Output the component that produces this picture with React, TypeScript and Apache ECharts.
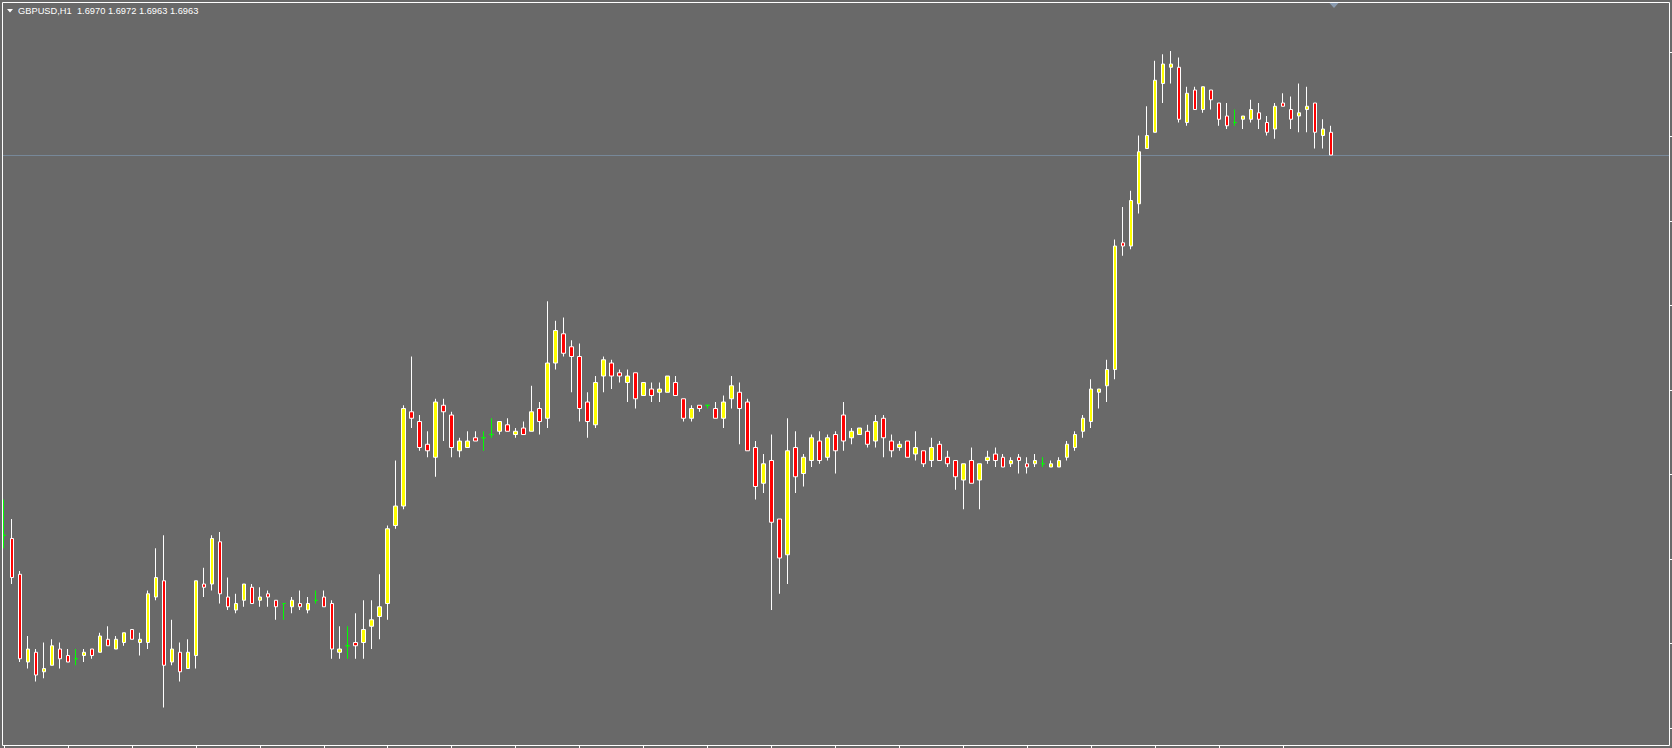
import React, { useEffect, useRef } from "react";
import * as echarts from "echarts";

const chartTitle = "GBPUSD,H1  1.6970 1.6972 1.6963 1.6963";

const openPrices = [
  1.6846, 1.6845, 1.6834, 1.6807, 1.681, 1.6804, 1.6806, 1.6811, 1.6809, 1.6808,
  1.6809, 1.6811, 1.681, 1.6814, 1.6811, 1.6813, 1.6817, 1.6813, 1.6813, 1.6827,
  1.6832, 1.6807, 1.681, 1.6805, 1.6809, 1.6831, 1.6831, 1.6844, 1.6827, 1.6823,
  1.6826, 1.683, 1.6826, 1.6828, 1.6826, 1.6825, 1.6824, 1.6825, 1.6823, 1.6826,
  1.6827, 1.6825, 1.681, 1.6812, 1.6813, 1.6813, 1.6818, 1.6821, 1.6825, 1.6849,
  1.6855, 1.6884, 1.6881, 1.6874, 1.687, 1.6886, 1.6883, 1.6872, 1.6873, 1.6876,
  1.6876, 1.6877, 1.6878, 1.688, 1.6877, 1.6879, 1.6878, 1.6885, 1.6882, 1.6899,
  1.6908, 1.6904, 1.6901, 1.6887, 1.688, 1.6895, 1.6899, 1.6896, 1.6893, 1.6896,
  1.6889, 1.6891, 1.689, 1.689, 1.6893, 1.6888, 1.6882, 1.6886, 1.6886, 1.6885,
  1.6882, 1.6888, 1.689, 1.6887, 1.6873, 1.6862, 1.6869, 1.6851, 1.684, 1.6873,
  1.6865, 1.6869, 1.6875, 1.687, 1.6877, 1.6883, 1.6876, 1.6877, 1.6878, 1.6875,
  1.6882, 1.6875, 1.6873, 1.6875, 1.6871, 1.6872, 1.6869, 1.6874, 1.687, 1.6869,
  1.6863, 1.6869, 1.6863, 1.6869, 1.6871, 1.687, 1.6868, 1.687, 1.6868, 1.6868,
  1.6868, 1.6867, 1.6867, 1.687, 1.6873, 1.6878, 1.6881, 1.689, 1.6892, 1.6897,
  1.6936, 1.6935, 1.6948, 1.6965, 1.697, 1.6985, 1.699, 1.699, 1.6973, 1.6983,
  1.6977, 1.6983, 1.6979, 1.6975, 1.6973, 1.6974, 1.6974, 1.6976, 1.6973, 1.6971,
  1.6979, 1.6977, 1.6975, 1.6977, 1.6979, 1.6969, 1.697,
];

const highPrices = [
  1.6857, 1.6851, 1.6835, 1.6815, 1.6811, 1.6813, 1.6814, 1.6813, 1.6811, 1.6811,
  1.6811, 1.6811, 1.6816, 1.6818, 1.6815, 1.6816, 1.6817, 1.6816, 1.6829, 1.6842,
  1.6846, 1.682, 1.6813, 1.6814, 1.6832, 1.6836, 1.6846, 1.6847, 1.6833, 1.6828,
  1.6831, 1.6831, 1.683, 1.6829, 1.6826, 1.6825, 1.6827, 1.6829, 1.6827, 1.6829,
  1.6829, 1.6826, 1.6818, 1.6818, 1.6822, 1.6826, 1.6826, 1.6834, 1.6849, 1.6869,
  1.6886, 1.6901, 1.6883, 1.6878, 1.6888, 1.6888, 1.6884, 1.6876, 1.6878, 1.6878,
  1.6878, 1.6882, 1.6881, 1.6882, 1.6879, 1.6881, 1.6892, 1.6887, 1.6918, 1.6912,
  1.6913, 1.6906, 1.6905, 1.689, 1.6895, 1.6901, 1.69, 1.6897, 1.6897, 1.6896,
  1.6893, 1.6893, 1.6893, 1.6895, 1.6895, 1.6888, 1.6886, 1.6886, 1.6886, 1.6887,
  1.6889, 1.6895, 1.6893, 1.6888, 1.6875, 1.6871, 1.6877, 1.6851, 1.6882, 1.6878,
  1.6871, 1.6877, 1.6878, 1.6877, 1.6878, 1.6887, 1.6879, 1.6879, 1.688, 1.6883,
  1.6883, 1.6877, 1.6875, 1.6875, 1.6878, 1.6872, 1.6876, 1.6875, 1.6872, 1.6869,
  1.6868, 1.6873, 1.6868, 1.6872, 1.6873, 1.6871, 1.687, 1.6871, 1.687, 1.6871,
  1.687, 1.6869, 1.687, 1.6875, 1.6878, 1.6883, 1.6894, 1.6891, 1.69, 1.6937,
  1.6947, 1.6952, 1.6969, 1.6978, 1.6992, 1.6994, 1.6995, 1.6993, 1.6984, 1.6984,
  1.6984, 1.6983, 1.6979, 1.6979, 1.6977, 1.6975, 1.698, 1.6979, 1.6975, 1.6979,
  1.6982, 1.6981, 1.6985, 1.6984, 1.6979, 1.6974, 1.6972,
];

const lowPrices = [
  1.6842, 1.6831, 1.6807, 1.6805, 1.6801, 1.6802, 1.6806, 1.6805, 1.6807, 1.6806,
  1.6807, 1.6808, 1.681, 1.6812, 1.6811, 1.6812, 1.6814, 1.6809, 1.6811, 1.6826,
  1.6793, 1.6806, 1.6801, 1.6805, 1.6805, 1.6827, 1.6829, 1.6825, 1.6823, 1.6822,
  1.6824, 1.6825, 1.6824, 1.6824, 1.682, 1.682, 1.6822, 1.6823, 1.6822, 1.6825,
  1.6824, 1.6808, 1.6808, 1.6808, 1.6808, 1.6808, 1.6811, 1.6814, 1.682, 1.6848,
  1.6854, 1.6879, 1.6872, 1.687, 1.6864, 1.6875, 1.687, 1.687, 1.6873, 1.6875,
  1.6872, 1.6876, 1.6877, 1.6878, 1.6876, 1.6877, 1.6878, 1.6877, 1.6879, 1.6897,
  1.6901, 1.689, 1.6881, 1.6876, 1.6879, 1.689, 1.6891, 1.6893, 1.6887, 1.6885,
  1.6889, 1.6887, 1.6887, 1.689, 1.6889, 1.6881, 1.6881, 1.6884, 1.6885, 1.6882,
  1.6879, 1.6885, 1.6874, 1.6872, 1.6857, 1.6859, 1.6823, 1.6828, 1.6831, 1.6859,
  1.6861, 1.6867, 1.6868, 1.6869, 1.6865, 1.6872, 1.6874, 1.6877, 1.6873, 1.6873,
  1.687, 1.687, 1.6872, 1.687, 1.6869, 1.6867, 1.6867, 1.6869, 1.6867, 1.686,
  1.6854, 1.6862, 1.6854, 1.6868, 1.6867, 1.6867, 1.6867, 1.6865, 1.6865, 1.6867,
  1.6867, 1.6867, 1.6867, 1.6869, 1.6872, 1.6876, 1.6879, 1.6885, 1.6887, 1.6894,
  1.6932, 1.6934, 1.6945, 1.6965, 1.697, 1.6979, 1.6985, 1.6973, 1.6972, 1.6977,
  1.6976, 1.6977, 1.6972, 1.6971, 1.6972, 1.6971, 1.6973, 1.6971, 1.6969, 1.6968,
  1.6978, 1.6971, 1.697, 1.697, 1.6965, 1.6965, 1.6963,
];

const closePrices = [
  1.6846, 1.6833, 1.6808, 1.6811, 1.6803, 1.6805, 1.6812, 1.6808, 1.6807, 1.6808,
  1.681, 1.6809, 1.6815, 1.6812, 1.6814, 1.6816, 1.6814, 1.6814, 1.6828, 1.6833,
  1.6806, 1.6811, 1.6804, 1.681, 1.6832, 1.683, 1.6845, 1.6828, 1.6824, 1.6825,
  1.6831, 1.6825, 1.6827, 1.6827, 1.6824, 1.6825, 1.6826, 1.6824, 1.6825, 1.6826,
  1.6824, 1.6811, 1.6811, 1.6812, 1.6812, 1.6817, 1.682, 1.6824, 1.6848, 1.6855,
  1.6885, 1.6882, 1.6873, 1.6872, 1.6887, 1.6884, 1.6873, 1.6875, 1.6875, 1.6875,
  1.6876, 1.6877, 1.6881, 1.6878, 1.6878, 1.6877, 1.6884, 1.6881, 1.6899, 1.6909,
  1.6902, 1.6901, 1.6885, 1.6881, 1.6893, 1.69, 1.6895, 1.6895, 1.6895, 1.6888,
  1.6893, 1.6889, 1.6891, 1.6895, 1.6889, 1.6882, 1.6885, 1.6885, 1.6886, 1.6882,
  1.6887, 1.6892, 1.6885, 1.6872, 1.6861, 1.6868, 1.685, 1.6839, 1.6872, 1.6864,
  1.687, 1.6876, 1.6869, 1.6876, 1.6872, 1.6875, 1.6878, 1.6879, 1.6874, 1.6881,
  1.6876, 1.6872, 1.6874, 1.687, 1.6873, 1.6868, 1.6873, 1.6869, 1.6868, 1.6864,
  1.6868, 1.6862, 1.6868, 1.687, 1.6869, 1.6867, 1.6869, 1.6869, 1.6867, 1.6869,
  1.6868, 1.6868, 1.6869, 1.6874, 1.6877, 1.6882, 1.6891, 1.6891, 1.6897, 1.6935,
  1.6935, 1.6949, 1.6964, 1.6969, 1.6986, 1.6991, 1.6991, 1.6974, 1.6982, 1.6977,
  1.6984, 1.698, 1.6974, 1.6972, 1.6973, 1.6975, 1.6977, 1.6974, 1.697, 1.6978,
  1.6978, 1.6974, 1.6976, 1.6978, 1.697, 1.6971, 1.6963,
];

const barLabels = openPrices.map((_, i) => `H1 bar ${i + 1}`);

const BAR_STEP = 8;
const GRID_LEFT = -1;
const BG = "#696969";
const UP = "#ffff00";
const DOWN = "#ff0000";
const DOJI = "#00ff00";
const BORDER = "#ffffff";
const BID = "#778899";

export default function App() {
  const ref = useRef<HTMLDivElement>(null);

  useEffect(() => {
    document.body.style.margin = "0";
    if (!ref.current) return;
    const chart = echarts.init(ref.current, undefined, { renderer: "svg" });

    const data = openPrices.map((o, i) => {
      const value = [o, closePrices[i], lowPrices[i], highPrices[i]];
      if (o === closePrices[i]) {
        return {
          value,
          itemStyle: {
            color: DOJI,
            color0: DOJI,
            borderColor: DOJI,
            borderColor0: DOJI,
            borderColorDoji: DOJI,
          },
        };
      }
      return { value };
    });

    const gridWidth = openPrices.length * BAR_STEP;

    chart.setOption({
      animation: false,
      backgroundColor: BG,
      grid: { left: GRID_LEFT, top: 52, width: gridWidth, bottom: 20, containLabel: false },
      xAxis: {
        type: "category",
        data: barLabels,
        boundaryGap: true,
        offset: 17,
        axisLine: { show: false },
        axisTick: {
          show: true,
          alignWithLabel: true,
          interval: 7,
          length: 3,
          inside: false,
          lineStyle: { color: BORDER, width: 1 },
        },
        axisLabel: { show: false },
        splitLine: { show: false },
      },
      yAxis: {
        type: "value",
        position: "right",
        offset: 1669 - (GRID_LEFT + gridWidth),
        min: 1.67867,
        max: 1.69947,
        interval: 0.0026,
        axisLine: { show: false },
        axisTick: { show: true, length: 3, inside: false, lineStyle: { color: BORDER, width: 1 } },
        axisLabel: { show: false },
        splitLine: { show: false },
      },
      series: [
        {
          type: "candlestick",
          data,
          barWidth: 4,
          silent: true,
          clip: false,
          z: 3,
          itemStyle: {
            color: UP,
            color0: DOWN,
            borderColor: BORDER,
            borderColor0: BORDER,
            borderColorDoji: DOJI,
            borderWidth: 1,
          },
        },
      ],
    });

    const lastClose = closePrices[closePrices.length - 1];
    const yBid = chart.convertToPixel({ yAxisIndex: 0 }, lastClose) as number;
    const yLine = Math.floor(yBid) + 0.5;
    const shiftX = (chart.convertToPixel({ xAxisIndex: 0 }, barLabels[barLabels.length - 1]) as number) + 3;

    chart.setOption({
      graphic: [
        {
          type: "line",
          id: "bid",
          z: 1,
          silent: true,
          shape: { x1: 2.5, y1: yLine, x2: 1669, y2: yLine },
          style: { stroke: BID, lineWidth: 1 },
        },
        {
          type: "rect",
          id: "frame",
          z: 10,
          silent: true,
          shape: { x: 2.5, y: 2.5, width: 1667, height: 743 },
          style: { fill: "none", stroke: BORDER, lineWidth: 1 },
        },
        {
          type: "polygon",
          id: "menu",
          z: 11,
          silent: true,
          shape: { points: [[7, 9], [13, 9], [10, 12.5]] },
          style: { fill: "#ffffff" },
        },
        {
          type: "polygon",
          id: "shift",
          z: 11,
          silent: true,
          shape: { points: [[shiftX - 4.5, 3], [shiftX + 4.5, 3], [shiftX, 8]] },
          style: { fill: "#8a9bb0" },
        },
        {
          type: "text",
          id: "title",
          z: 11,
          silent: true,
          x: 18,
          y: 11,
          style: {
            text: chartTitle,
            fill: "#ffffff",
            font: "9.3px 'Liberation Sans', Arial, sans-serif",
            textVerticalAlign: "middle",
            textAlign: "left",
          },
        },
      ],
    });

    return () => chart.dispose();
  }, []);

  return <div ref={ref} style={{ width: 1672, height: 748, background: BG }} />;
}
